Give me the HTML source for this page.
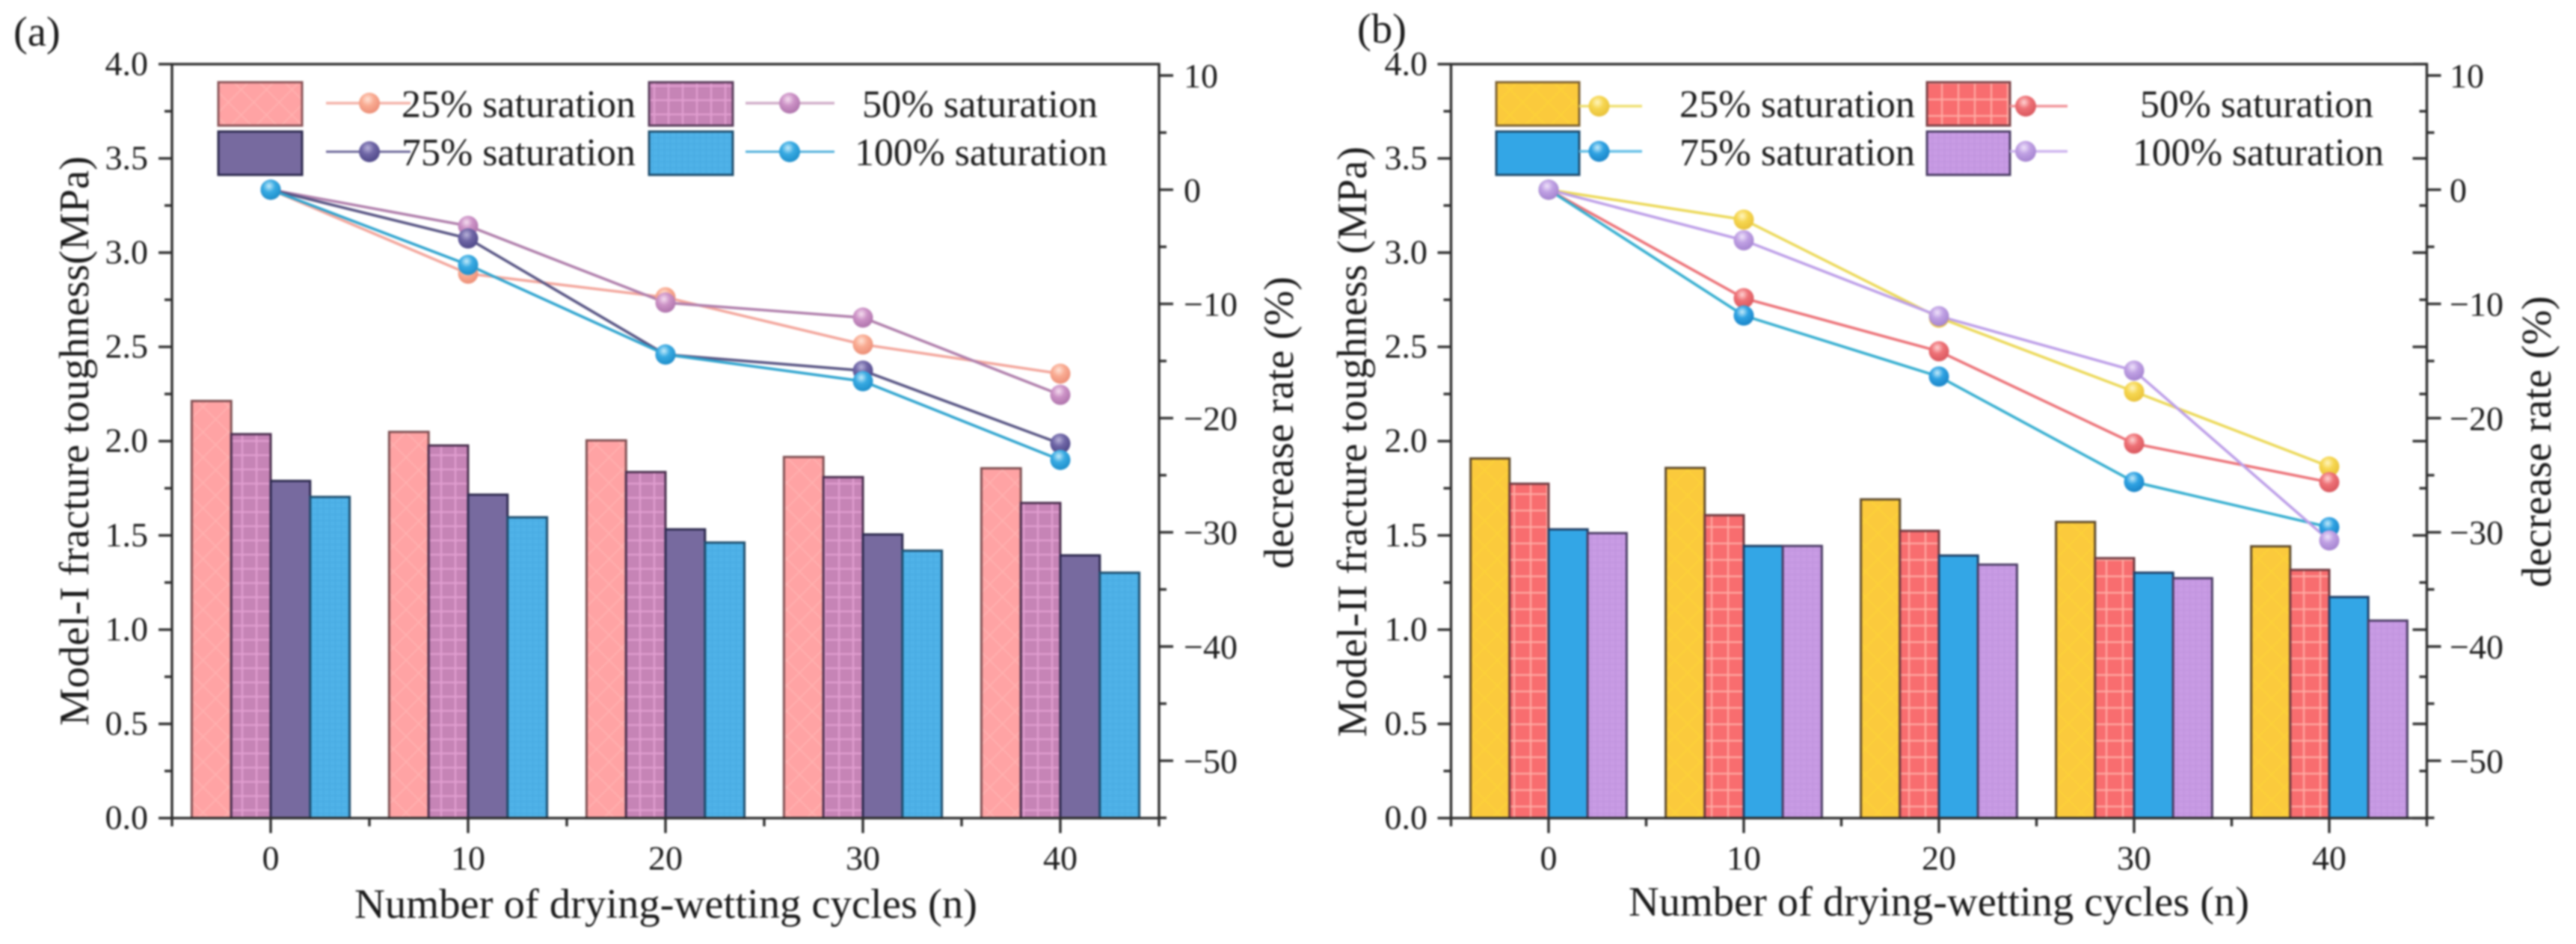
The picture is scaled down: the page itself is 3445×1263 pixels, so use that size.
<!DOCTYPE html>
<html lang="en">
<head>
<meta charset="utf-8">
<title>Fracture toughness vs drying-wetting cycles</title>
<style>
html,body{margin:0;padding:0;background:#fff;width:3445px;height:1263px;overflow:hidden}
svg{display:block;filter:blur(1.4px)}
text{font-family:"Liberation Serif",serif;fill:#1c1c1c}
.tick{font-size:46px}
.title{font-size:56.5px}
.leg{font-size:51.5px}
</style>
</head>
<body>
<svg id="fig" xmlns="http://www.w3.org/2000/svg" width="3445" height="1263" viewBox="0 0 3445 1263">
<defs>
<pattern id="pA25" width="24" height="24" patternUnits="userSpaceOnUse" patternTransform="rotate(45)"><rect width="24" height="24" fill="#FFA3A4"/><path d="M0 0H24M0 0V24" stroke="#FFB3B1" stroke-width="3"/></pattern>
<pattern id="pA50" width="19" height="19" patternUnits="userSpaceOnUse"><rect width="19" height="19" fill="#C684B6"/><path d="M0 1H19M1 0V19" stroke="#E3A0D2" stroke-width="2.2"/></pattern>
<pattern id="pA75" width="19" height="19" patternUnits="userSpaceOnUse"><rect width="19" height="19" fill="#776A9F"/></pattern>
<pattern id="pA100" width="8" height="8" patternUnits="userSpaceOnUse"><rect width="8" height="8" fill="#4FB2E8"/><path d="M0 .5H8M.5 0V8" stroke="#46A9E0" stroke-width="1"/></pattern>
<pattern id="pB25" width="24" height="24" patternUnits="userSpaceOnUse" patternTransform="rotate(45)"><rect width="24" height="24" fill="#FBCA3C"/><path d="M0 0H24M0 0V24" stroke="#FDD338" stroke-width="3"/></pattern>
<pattern id="pB50" width="22" height="22" patternUnits="userSpaceOnUse"><rect width="22" height="22" fill="#F86D6F"/><path d="M0 1H22M1 0V22" stroke="#FFAEA6" stroke-width="2.2"/></pattern>
<pattern id="pB75" width="19" height="19" patternUnits="userSpaceOnUse"><rect width="19" height="19" fill="#33A6E6"/></pattern>
<pattern id="pB100" width="8" height="8" patternUnits="userSpaceOnUse"><rect width="8" height="8" fill="#C89BE4"/><path d="M0 .5H8M.5 0V8" stroke="#BF92DC" stroke-width="1"/></pattern>
<radialGradient id="gA25" cx="42%" cy="32%" r="68%"><stop offset="0" stop-color="#FFE3D6"/><stop offset=".45" stop-color="#F9AB92"/><stop offset="1" stop-color="#EC8F78"/></radialGradient>
<radialGradient id="gA50" cx="42%" cy="32%" r="68%"><stop offset="0" stop-color="#F5DDF0"/><stop offset=".45" stop-color="#CC92C6"/><stop offset="1" stop-color="#AF74AC"/></radialGradient>
<radialGradient id="gA75" cx="42%" cy="32%" r="68%"><stop offset="0" stop-color="#B8B2DA"/><stop offset=".45" stop-color="#6F66A6"/><stop offset="1" stop-color="#4F4888"/></radialGradient>
<radialGradient id="gA100" cx="42%" cy="32%" r="68%"><stop offset="0" stop-color="#C4EBFB"/><stop offset=".45" stop-color="#38AAE2"/><stop offset="1" stop-color="#1E8FCB"/></radialGradient>
<radialGradient id="gB25" cx="42%" cy="32%" r="68%"><stop offset="0" stop-color="#FFF5BE"/><stop offset=".45" stop-color="#F6D650"/><stop offset="1" stop-color="#E9C23A"/></radialGradient>
<radialGradient id="gB50" cx="42%" cy="32%" r="68%"><stop offset="0" stop-color="#FFD3D3"/><stop offset=".45" stop-color="#EE7176"/><stop offset="1" stop-color="#D9585F"/></radialGradient>
<radialGradient id="gB75" cx="42%" cy="32%" r="68%"><stop offset="0" stop-color="#C4EBFB"/><stop offset=".45" stop-color="#2FA2E2"/><stop offset="1" stop-color="#1A85C8"/></radialGradient>
<radialGradient id="gB100" cx="42%" cy="32%" r="68%"><stop offset="0" stop-color="#EFE2FB"/><stop offset=".45" stop-color="#BFA0E3"/><stop offset="1" stop-color="#A584D0"/></radialGradient>
</defs>

<g id="panelA"></g>
<g id="panelB"></g>

<text class="title" x="18" y="61">(a)</text>
<text class="title" x="1815" y="57">(b)</text>

<text class="title" x="474" y="1228" textLength="833" lengthAdjust="spacingAndGlyphs">Number of drying-wetting cycles (n)</text>
<text class="title" x="2178" y="1225" textLength="830" lengthAdjust="spacingAndGlyphs">Number of drying-wetting cycles (n)</text>

<text class="title" transform="translate(118 971) rotate(-90)" textLength="762" lengthAdjust="spacingAndGlyphs">Model-I fracture toughness(MPa)</text>
<text class="title" transform="translate(1827 986) rotate(-90)" textLength="790" lengthAdjust="spacingAndGlyphs">Model-II fracture toughness (MPa)</text>

<text class="title" transform="translate(1729 761) rotate(-90)" textLength="391" lengthAdjust="spacingAndGlyphs">decrease rate (%)</text>
<text class="title" transform="translate(3411 786) rotate(-90)" textLength="390" lengthAdjust="spacingAndGlyphs">decrease rate (%)</text>

<g>
  <rect x="292" y="110" width="112" height="58" fill="url(#pA25)" stroke="#8A5458" stroke-width="3"/>
  <line x1="436" y1="138" x2="549" y2="138" stroke="#F3B2A8" stroke-width="3.5"/>
  <circle cx="494" cy="138" r="14" fill="url(#gA25)"/>
  <text class="leg" x="537" y="156.5" textLength="313" lengthAdjust="spacingAndGlyphs">25% saturation</text>

  <rect x="868" y="110" width="112" height="58" fill="url(#pA50)" stroke="#5A3E5C" stroke-width="3"/>
  <line x1="997" y1="138" x2="1116" y2="138" stroke="#D0AEC8" stroke-width="3.5"/>
  <circle cx="1056" cy="138" r="14" fill="url(#gA50)"/>
  <text class="leg" x="1153" y="156.5" textLength="315" lengthAdjust="spacingAndGlyphs">50% saturation</text>

  <rect x="292" y="176" width="112" height="58" fill="url(#pA75)" stroke="#2D2A4E" stroke-width="3"/>
  <line x1="436" y1="203" x2="549" y2="203" stroke="#6B6698" stroke-width="3"/>
  <circle cx="494" cy="203" r="14" fill="url(#gA75)"/>
  <text class="leg" x="537" y="221" textLength="313" lengthAdjust="spacingAndGlyphs">75% saturation</text>

  <rect x="868" y="176" width="112" height="58" fill="url(#pA100)" stroke="#1F4E6E" stroke-width="3"/>
  <line x1="997" y1="203" x2="1116" y2="203" stroke="#4FAFDB" stroke-width="3"/>
  <circle cx="1056" cy="203" r="14" fill="url(#gA100)"/>
  <text class="leg" x="1143" y="221" textLength="338" lengthAdjust="spacingAndGlyphs">100% saturation</text>
</g>

<g>
  <rect x="2001" y="110" width="111" height="58" fill="url(#pB25)" stroke="#7D6234" stroke-width="3"/>
  <line x1="2112" y1="142" x2="2196" y2="142" stroke="#EFE070" stroke-width="3.5"/>
  <circle cx="2138.500" cy="142" r="14" fill="url(#gB25)"/>
  <text class="leg" x="2246" y="156.5" textLength="315" lengthAdjust="spacingAndGlyphs">25% saturation</text>

  <rect x="2577" y="110" width="111" height="58" fill="url(#pB50)" stroke="#7C4348" stroke-width="3"/>
  <line x1="2688" y1="142" x2="2765" y2="142" stroke="#F19499" stroke-width="3.5"/>
  <circle cx="2709" cy="142" r="14" fill="url(#gB50)"/>
  <text class="leg" x="2862" y="156.5" textLength="312" lengthAdjust="spacingAndGlyphs">50% saturation</text>

  <rect x="2001" y="176" width="111" height="58" fill="url(#pB75)" stroke="#1F4C6E" stroke-width="3"/>
  <line x1="2112" y1="202.500" x2="2196" y2="202.500" stroke="#63BFE6" stroke-width="3.5"/>
  <circle cx="2138.500" cy="202.500" r="14" fill="url(#gB75)"/>
  <text class="leg" x="2246" y="221" textLength="315" lengthAdjust="spacingAndGlyphs">75% saturation</text>

  <rect x="2577" y="176" width="111" height="58" fill="url(#pB100)" stroke="#4C3E66" stroke-width="3"/>
  <line x1="2688" y1="202.500" x2="2765" y2="202.500" stroke="#CDB4EE" stroke-width="3.5"/>
  <circle cx="2709" cy="202.500" r="14" fill="url(#gB100)"/>
  <text class="leg" x="2852" y="221" textLength="336" lengthAdjust="spacingAndGlyphs">100% saturation</text>
</g>

<script>
// ---- data ----
const categories = [0, 10, 20, 30, 40];
const seriesNames = ['25', '50', '75', '100'];

// Panel (a): fracture toughness bars (MPa)
const aToughness25 = [2.213, 2.049, 2.004, 1.916, 1.856];
const aToughness50 = [2.037, 1.977, 1.836, 1.809, 1.672];
const aToughness75 = [1.789, 1.716, 1.532, 1.505, 1.394];
const aToughness100 = [1.704, 1.596, 1.462, 1.419, 1.302];

// Panel (a): decrease-rate lines (%)
const aRate25 = [0, -7.35, -9.42, -13.55, -16.11];
const aRate50 = [0, -3.17, -9.89, -11.2, -17.96];
const aRate75 = [0, -4.27, -14.43, -15.84, -22.23];
const aRate100 = [0, -6.58, -14.43, -16.77, -23.66];

// Panel (b): fracture toughness bars (MPa)
const bToughness25 = [1.908, 1.858, 1.691, 1.571, 1.442];
const bToughness50 = [1.774, 1.607, 1.524, 1.379, 1.317];
const bToughness75 = [1.532, 1.444, 1.393, 1.302, 1.173];
const bToughness100 = [1.512, 1.444, 1.345, 1.273, 1.048];

// Panel (b): decrease-rate lines (%)
const bRate25 = [0, -2.62, -11.2, -17.68, -24.24];
const bRate50 = [0, -9.5, -14.15, -22.23, -25.61];
const bRate75 = [0, -11.02, -16.36, -25.59, -29.55];
const bRate100 = [0, -4.43, -11.07, -15.84, -30.71];

// Tick labels
const leftTickValues = [0, 0.5, 1, 1.5, 2, 2.5, 3, 3.5, 4];
const leftTickLabels = ['0.0', '0.5', '1.0', '1.5', '2.0', '2.5', '3.0', '3.5', '4.0'];
const leftMinorValues = [0.25, 0.75, 1.25, 1.75, 2.25, 2.75, 3.25, 3.75];
const rightTickValues = [10, 0, -10, -20, -30, -40, -50];
const rightTickLabels = ['10', '0', '\u221210', '\u221220', '\u221230', '\u221240', '\u221250'];
const rightMinorValues = [5, -5, -15, -25, -35, -45, -55];

// ---- axis functions ----
const yLeftRange = { base: 1094.6, perUnit: 252.2 };
const yRightRange = { zero: 253.8, perUnit: 15.28 };
function yLeft(v) { return yLeftRange.base - yLeftRange.perUnit * v; }
function yRight(v) { return yRightRange.zero - yRightRange.perUnit * v; }
function xCat(panel, i) { return panel.x0 + panel.dx * i; }

const SVGNS = 'http://www.w3.org/2000/svg';
function make(parent, tag, attrs) {
  const n = document.createElementNS(SVGNS, tag);
  for (const k in attrs) n.setAttribute(k, attrs[k]);
  parent.appendChild(n);
  return n;
}

function drawPanel(panel) {
  const root = document.getElementById(panel.rootId);
  const left = panel.x0 - panel.dx / 2;
  const right = panel.x0 + panel.dx * 4.5;
  const barW = panel.dx * 0.2;
  const axisColor = '#2e2e2e';

  // bars
  categories.forEach(function (cat, i) {
    panel.bars.forEach(function (values, s) {
      const top = yLeft(values[i]);
      const el = make(root, 'rect', {
        x: xCat(panel, i) + (s - 2) * barW,
        y: top,
        width: barW,
        height: yLeft(0) - top,
        fill: 'url(#' + panel.patterns[s] + ')',
        stroke: panel.barEdges[s],
        'stroke-width': 3
      });
      
      
    });
  });

  // lines
  panel.rates.forEach(function (values, s) {
    const pts = values.map(function (v, i) { return xCat(panel, i) + ',' + yRight(v); }).join(' ');
    const el = make(root, 'polyline', {
      points: pts,
      fill: 'none',
      stroke: panel.lineColors[s],
      'stroke-width': 3.6,
      'stroke-linejoin': 'round'
    });
    
    
  });

  // markers
  panel.rates.forEach(function (values, s) {
    values.forEach(function (v, i) {
      const el = make(root, 'circle', {
        cx: xCat(panel, i),
        cy: yRight(v),
        r: 13.5,
        fill: 'url(#' + panel.gradients[s] + ')'
      });
      
      
    });
  });

  // frame
  const frame = make(root, 'path', {
    d: 'M' + left + ' ' + yLeft(0) + 'V' + yLeft(4) + 'H' + right + 'V' + yLeft(0) + 'H' + left,
    fill: 'none',
    stroke: axisColor,
    'stroke-width': 3.4
  });
  
  

  function tick(x1, y1, x2, y2, name) {
    const el = make(root, 'line', { x1: x1, y1: y1, x2: x2, y2: y2, stroke: axisColor, 'stroke-width': 3.4 });
    
    
  }

  // left axis
  leftTickValues.forEach(function (v, i) {
    tick(left - 18, yLeft(v), left, yLeft(v), 'panel-' + panel.id + '-left-tick');
    if (panel.mirrorLeftTicks) tick(right - 19, yLeft(v), right, yLeft(v), 'panel-' + panel.id + '-mirror-tick');
    const t = make(root, 'text', { class: 'tick', x: panel.leftLabelX, y: yLeft(v) + 14.5, 'text-anchor': 'end' });
    t.textContent = leftTickLabels[i];
    
    
  });
  leftMinorValues.forEach(function (v) {
    tick(left - 10, yLeft(v), left, yLeft(v), 'panel-' + panel.id + '-left-minor-tick');
    if (panel.mirrorLeftTicks) tick(right - 10, yLeft(v), right, yLeft(v), 'panel-' + panel.id + '-mirror-minor-tick');
  });

  // right axis
  rightTickValues.forEach(function (v, i) {
    tick(right, yRight(v), right + 19, yRight(v), 'panel-' + panel.id + '-right-tick');
    const t = make(root, 'text', { class: 'tick', x: panel.rightLabelX, y: yRight(v) + 16 });
    t.textContent = rightTickLabels[i];
    
    
  });
  rightMinorValues.forEach(function (v) {
    tick(right, yRight(v), right + 10, yRight(v), 'panel-' + panel.id + '-right-minor-tick');
  });

  // x axis
  categories.forEach(function (cat, i) {
    const x = xCat(panel, i);
    tick(x, yLeft(0), x, yLeft(0) + 20, 'panel-' + panel.id + '-x-tick');
    const t = make(root, 'text', { class: 'tick', x: x, y: 1163.5, 'text-anchor': 'middle' });
    t.textContent = String(cat);
    
    
  });
  for (let i = -0.5; i <= 4.5; i += 1) {
    const x = xCat(panel, i);
    tick(x, yLeft(0), x, yLeft(0) + 11, 'panel-' + panel.id + '-x-minor-tick');
  }
}

drawPanel({
  id: 'a', rootId: 'panelA', x0: 362, dx: 264,
  leftLabelX: 198, rightLabelX: 1583, mirrorLeftTicks: false,
  bars: [aToughness25, aToughness50, aToughness75, aToughness100],
  rates: [aRate25, aRate50, aRate75, aRate100],
  patterns: ['pA25', 'pA50', 'pA75', 'pA100'],
  gradients: ['gA25', 'gA50', 'gA75', 'gA100'],
  barEdges: ['#7E4F52', '#4A2F4E', '#2D2A4E', '#1F4E6E'],
  lineColors: ['#F3A69C', '#B07FAC', '#585584', '#2FA4CF']
});

drawPanel({
  id: 'b', rootId: 'panelB', x0: 2071, dx: 261,
  leftLabelX: 1909, rightLabelX: 3276, mirrorLeftTicks: true,
  bars: [bToughness25, bToughness50, bToughness75, bToughness100],
  rates: [bRate25, bRate50, bRate75, bRate100],
  patterns: ['pB25', 'pB50', 'pB75', 'pB100'],
  gradients: ['gB25', 'gB50', 'gB75', 'gB100'],
  barEdges: ['#5E4A2C', '#6E3A40', '#1F3F66', '#4C3E66'],
  lineColors: ['#ECD95A', '#EC7278', '#35AED0', '#BD9FE8']
});
</script>
</svg>
</body>
</html>
